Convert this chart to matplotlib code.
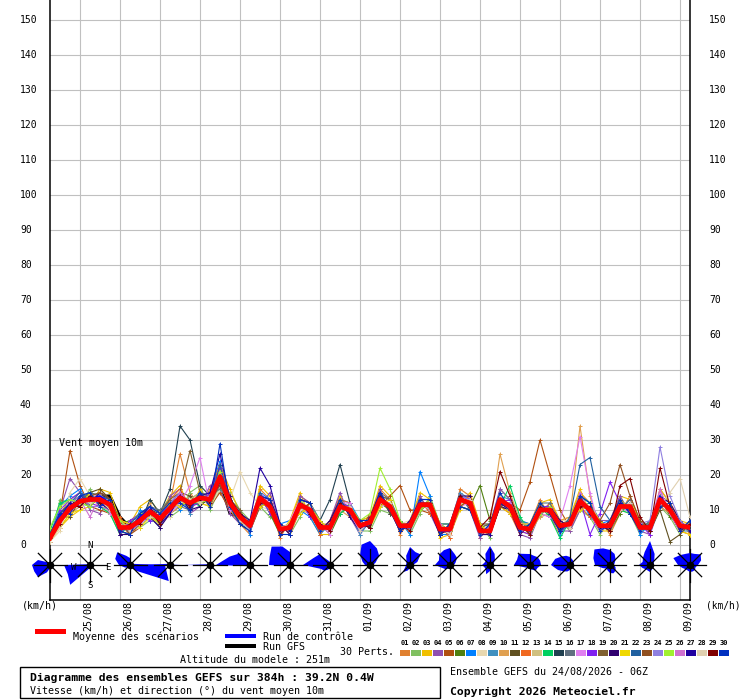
import matplotlib
matplotlib.use("Agg")
import matplotlib.pyplot as plt
import matplotlib.transforms as mtransforms
from matplotlib.patches import Rectangle, Polygon
import numpy as np

W, H = 740, 700
plt.rcParams['font.family'] = ['DejaVu Sans Mono', 'DejaVu Sans']

# time axis: one value every 6h from 24/08 06Z to 09/09 06Z
step_h = 6
dates = ['25/08', '26/08', '27/08', '28/08', '29/08', '30/08', '31/08', '01/09',
         '02/09', '03/09', '04/09', '05/09', '06/09', '07/09', '08/09', '09/09']

mean = [2, 7, 10.5, 12.5, 13, 13, 11.5, 5, 5, 7, 9.5, 7.5, 10.5, 13.5, 12, 13.5, 13, 19.5, 12, 8,
        5.5, 13.5, 11, 4.5, 5, 11.5, 10, 5, 5, 11, 10, 5.5, 6.5, 13, 11, 5.5, 5.5, 11.5, 11.5, 4.5,
        4.5, 13, 12, 4, 4, 13, 11, 5, 4.5, 10, 10, 5.5, 6, 12.5, 10, 5.5, 5.5, 11, 11, 5,
        5, 13, 10, 5.5, 5]
ctrl = [2,8,11,13,13,14,12,5,5,8,10,8,11,14,12,14,13,20,12,8,5,14,11,4,5,12,10,5,5,11,10,5,6,13,11,5,5,12,11,4,4,13,12,4,4,13,11,5,4,10,10,5,6,13,10,5,5,11,11,5,5,14,10,5,5]
gfs = [2,7,11,13,13,14,14,8,5,7,9,7,10,13,12,13,13,18,9,8,5,13,11,4,5,11,10,5,5,11,10,5,6,13,11,5,5,11,11,4,4,13,12,4,4,13,11,5,4,10,10,5,6,12,10,5,5,11,11,5,5,13,10,5,5]

p01 = [3,9,13,15,11,16,13,7,3,9, 11,5,12,26,15,11,16,22,10,6, 3,16,13,2,7,14,12,3,7,14, 8,7,8,16,13,3,7,14,9,6, 2,16,14,2,6,11,9,7,6,13, 8,3,8,15,12,7,3,9,14,7, 3,16,12,7,3]
p02 = [1,13,12,11,16,11,9,3,7,5, 7,9,8,10,15,17,10,16,15,10, 7,11,8,6,3,8,12,7,4,9, 12,4,4,10,9,7,3,9,14,6, 6,11,10,6,2,16,13,3,6,8, 12,7,4,10,8,3,7,14,9,3, 7,11,8,3,7]
p03 = [2,5,8,10,11,16,15,7,6,11, 13,9,14,17,10,16,11,23,16,9, 4,17,14,3,7,15,8,3,3,14, 9,7,8,17,14,4,7,15,13,2, 3,10,15,6,3,11,9,4,3,12, 13,7,8,16,9,4,4,14,13,7, 4,16,12,7,6]
p04 = [3,10,19,15,10,9,13,3,7,9, 8,5,14,16,9,11,17,16,9,6, 7,11,15,6,3,14,12,4,7,15, 8,3,7,16,9,7,4,14,9,3, 6,15,10,2,6,16,13,3,2,9, 8,4,4,10,11,7,7,14,9,4, 3,11,9,4,7]
p05 = [1,9,27,17,11,10,9,6,3,5, 11,6,12,14,10,14,11,15,10,10, 4,11,12,3,6,9,12,7,4,12, 11,4,9,11,14,17,10,10,9,6, 3,11,13,6,3,11,12,10,18,30, 20,10,5,14,9,4,7,10,12,6, 4,14,9,4,6]
p06 = [4,6,12,11,15,12,10,6,7,6, 8,10,9,11,13,15,14,20,14,6, 7,14,9,3,6,13,9,6,3,9, 11,7,5,12,10,6,4,13,13,6, 6,14,11,17,7,12,10,6,6,9, 11,4,7,11,12,6,4,9,12,6, 6,14,8,6,4]
p07 = [2,11,14,16,11,15,13,7,3,10, 7,9,13,10,14,11,15,24,11,10, 3,15,13,6,7,10,8,3,6,13, 12,7,7,15,9,7,3,21,14,3, 3,11,10,3,6,14,9,7,6,9, 12,3,7,14,8,6,7,10,13,3, 6,15,9,7,4]
p08 = [1,4,15,19,14,11,9,6,4,5, 11,9,8,15,11,14,11,16,13,21, 15,11,10,6,3,10,11,6,4,10, 11,4,7,11,12,6,7,10,12,3, 5,11,13,3,5,15,10,6,3,9, 11,7,7,11,11,6,4,10,12,6, 4,12,11,6,4]
p09 = [3,10,9,14,15,14,13,3,6,9, 8,5,10,14,9,15,11,21,14,7, 7,15,10,6,4,13,12,7,4,13, 9,3,7,14,13,4,7,13,10,6, 6,15,13,3,3,14,13,4,6,12, 9,4,7,14,12,7,4,13,10,4, 7,14,12,4,4]
p10 = [2,5,9,11,14,11,10,7,6,6, 12,6,9,11,14,12,11,18,10,9, 4,12,12,3,7,10,9,6,6,10, 8,7,5,11,12,4,6,10,13,5, 3,11,13,6,6,26,15,7,4,8, 9,7,8,34,14,4,6,10,9,6, 4,11,9,6,6]
p11 = [2,8,8,13,15,16,13,4,3,8, 10,9,9,15,14,11,14,17,13,7, 6,11,12,3,6,13,9,4,6,12, 9,6,5,14,9,6,6,10,12,3, 6,14,11,3,3,11,10,6,3,12, 9,6,5,11,11,4,6,10,12,6, 4,10,1,3,6]
p12 = [3,9,12,14,11,14,9,8,4,9, 8,8,13,16,11,12,15,23,14,6, 7,12,13,6,3,10,11,3,7,13, 12,4,8,12,12,7,4,13,9,6, 2,12,14,6,3,14,9,3,6,9, 12,7,5,11,8,7,4,13,10,7, 4,15,9,4,3]
p13 = [2,6,11,11,14,15,10,4,7,6, 11,9,9,12,13,15,11,17,13,10, 4,14,10,6,4,10,11,4,6,10, 11,7,5,12,12,4,7,10,12,6, 3,14,11,5,3,12,12,4,5,9, 11,7,5,11,11,4,7,10,12,4, 6,12,11,7,4]
p14 = [4,12,13,12,11,11,9,3,6,6, 8,6,12,12,13,11,14,21,11,6, 4,15,9,5,6,10,11,4,6,9, 11,4,7,11,12,4,6,10,13,3, 6,11,10,5,6,11,17,8,4,11, 8,2,7,14,12,4,6,10,9,6, 4,14,9,6,4]
p15 = [2,8,9,14,11,14,13,4,6,6, 13,9,16,34,30,17,14,20,10,9, 4,14,10,5,6,10,11,7,13,23, 12,4,7,12,12,4,6,10,12,5, 3,13,11,5,3,14,10,6,3,11, 9,6,5,13,9,6,4,12,10,4, 6,12,11,4,6]
p16 = [3,9,9,13,15,14,13,4,3,9, 11,10,13,11,10,15,14,16,13,9, 7,11,13,6,4,13,12,4,6,13, 9,7,5,15,13,7,4,13,10,6, 4,14,10,6,6,11,12,7,4,12, 12,4,7,14,9,7,4,10,13,4, 7,14,12,4,7]
p17 = [2,5,12,11,14,14,9,7,4,6, 8,6,9,12,17,25,11,21,10,9, 4,15,12,3,7,13,9,6,3,12, 12,4,7,11,12,4,7,13,10,6, 3,11,12,3,6,14,9,6,6,9, 8,7,17,31,15,4,6,10,12,4, 6,15,9,6,4]
p18 = [1,10,13,15,12,11,12,3,7,8, 7,8,12,15,11,12,15,22,13,7, 7,14,9,6,4,13,8,6,4,12, 11,4,7,14,10,6,4,10,13,3, 5,14,13,3,5,12,13,4,3,11, 11,4,6,13,3,9,18,12,9,6, 3,14,9,6,4]
p19 = [2,8,9,13,11,14,10,6,4,8, 11,9,13,15,27,15,11,18,13,10, 4,11,12,3,6,10,11,4,6,10, 11,7,5,14,13,4,6,13,10,6, 3,11,10,5,6,14,10,6,3,11, 9,6,7,11,11,4,6,10,12,6, 4,11,11,4,6]
p20 = [3,9,12,14,12,15,13,3,3,9, 8,5,9,14,10,11,14,17,14,6, 4,14,13,6,3,13,12,4,7,13, 8,4,8,15,10,4,7,13,10,3, 6,14,14,3,3,11,10,3,6,9, 11,7,5,14,9,4,7,13,9,4, 6,14,12,7,4]
p21 = [1,5,9,10,15,11,10,7,6,5, 8,6,12,11,13,12,11,21,11,9, 7,11,12,3,7,9,11,7,4,13, 9,6,5,11,13,4,6,10,13,6, 3,11,13,6,3,14,9,6,6,12, 9,4,7,10,11,7,4,13,10,6, 4,11,12,4,3]
p22 = [2,9,12,15,12,14,13,4,6,9, 11,9,9,15,11,15,12,23,11,7, 4,15,10,6,4,13,9,4,6,10, 11,4,7,14,10,7,4,13,10,3, 6,14,11,3,5,14,10,4,6,9, 11,4,8,23,25,11,7,10,12,4, 6,14,9,4,6]
p23 = [2,6,11,11,14,15,13,7,3,6, 10,6,12,12,13,12,13,17,12,6, 7,12,12,3,6,10,12,4,6,12, 9,6,5,14,10,4,6,10,12,6, 4,11,13,3,5,11,12,6,3,11, 9,6,5,14,9,7,12,23,14,7, 4,11,11,4,6]
p24 = [3,6,12,14,11,11,10,6,4,6, 11,9,12,15,11,14,12,20,11,9, 4,12,12,6,4,13,9,6,4,12, 9,4,7,12,12,6,5,13,10,5, 3,14,13,5,3,12,12,4,5,9, 11,4,7,11,11,4,6,10,12,6, 7,28,14,7,4]
p25 = [5,11,13,12,11,14,12,7,4,9, 9,6,12,12,13,12,13,21,11,7, 6,14,10,6,4,13,9,4,6,10, 11,7,9,22,16,7,4,10,12,6, 4,14,11,5,3,14,10,6,3,9, 11,4,7,13,9,6,4,12,10,6, 4,14,9,6,4]
p26 = [2,8,9,13,8,14,12,4,6,6, 10,8,9,15,11,14,12,18,13,7, 6,12,12,3,6,10,11,6,4,12, 9,4,7,12,12,6,4,12,10,6, 3,12,13,3,5,12,12,4,5,11, 9,6,5,15,9,4,6,10,12,4, 6,16,9,4,6]
p27 = [2,8,12,11,14,12,10,6,4,8, 11,6,9,14,11,14,15,26,13,9, 7,22,17,6,4,12,9,4,6,10, 11,6,5,14,10,4,6,12,10,3, 5,14,11,5,3,12,10,6,3,11, 9,4,7,13,9,6,4,12,10,6, 4,12,11,6,4]
p28 = [1,5,11,13,12,13,10,6,4,8, 8,8,11,12,13,12,14,18,13,7, 4,14,10,5,6,10,11,4,6,10, 11,4,7,12,12,6,4,12,10,5, 3,12,13,3,5,14,10,6,3,11, 9,6,5,11,11,4,6,10,12,4, 6,11,15,19,8]
p29 = [2,6,11,11,14,12,12,4,6,6, 10,6,11,14,11,14,12,18,13,9, 6,12,12,3,6,12,9,6,4,12, 9,6,5,14,10,6,4,12,12,3, 5,14,11,5,8,21,14,6,3,11, 9,4,7,11,11,6,4,17,19,8, 4,22,11,4,6]
p30 = [3,9,9,14,15,11,13,4,3,9, 11,9,12,12,10,15,11,29,11,6, 4,14,13,3,3,13,12,4,6,13, 9,7,7,15,10,4,6,13,13,3, 6,11,10,3,6,15,10,4,6,12, 9,4,7,14,12,4,6,13,9,4, 6,11,12,4,7]

perts = [p01, p02, p03, p04, p05, p06, p07, p08, p09, p10, p11, p12, p13, p14, p15,
         p16, p17, p18, p19, p20, p21, p22, p23, p24, p25, p26, p27, p28, p29, p30]
pert_colors = ['#E08030', '#80C060', '#F0C000', '#9050B0', '#B05010', '#508010', '#0080FF', '#E8D8B0',
               '#4090C0', '#E0A050', '#605020', '#F06820', '#D0C080', '#00D060', '#204050', '#607080',
               '#E080F0', '#8020F0', '#806030', '#300070', '#F0D800', '#2060A0', '#905020', '#9080E0',
               '#A0F030', '#D070D0', '#2000A0', '#E0D0B0', '#800000', '#0030C0']

# wind direction frequency, 16 sectors from N clockwise, one rose per day at 06Z
rose_freq = [
    [3, 2, 2, 2, 3, 2, 2, 2, 3, 8, 17, 17, 18, 13, 4, 3],
    [1, 1, 1, 1, 2, 1, 1, 1, 2, 5, 28, 24, 26, 2, 1, 1],
    [7, 3, 2, 3, 35, 42, 8, 3, 3, 3, 4, 6, 11, 16, 18, 10],
    [1, 1, 1, 1, 11, 2, 1, 1, 1, 1, 1, 2, 30, 3, 1, 1],
    [1, 1, 1, 2, 2, 1, 1, 1, 1, 1, 1, 1, 26, 2, 1, 1],
    [2, 1, 1, 1, 2, 1, 1, 1, 1, 1, 1, 3, 34, 22, 16, 3],
    [13, 3, 2, 2, 2, 2, 2, 2, 2, 2, 2, 3, 21, 22, 26, 20],
    [3, 2, 2, 2, 2, 2, 2, 2, 3, 5, 8, 10, 27, 18, 15, 5],
    [24, 18, 13, 6, 3, 2, 2, 2, 2, 2, 2, 3, 5, 8, 14, 22],
    [18, 14, 15, 8, 3, 2, 2, 2, 3, 6, 10, 5, 4, 4, 5, 10],
    [17, 12, 10, 6, 4, 3, 3, 3, 3, 4, 6, 8, 15, 12, 15, 16],
    [19, 12, 7, 4, 3, 3, 3, 4, 6, 10, 6, 6, 8, 6, 6, 12],
    [11, 10, 11, 11, 11, 8, 8, 5, 4, 4, 4, 6, 16, 14, 16, 12],
    [8, 6, 5, 4, 4, 4, 4, 4, 5, 7, 9, 13, 19, 16, 12, 10],
    [15, 12, 8, 5, 4, 6, 8, 9, 8, 6, 5, 8, 15, 18, 22, 18],
    [24, 12, 6, 4, 4, 4, 4, 5, 7, 6, 6, 8, 11, 8, 10, 14],
    [12, 12, 15, 12, 8, 6, 7, 7, 7, 6, 6, 8, 12, 18, 14, 12],
]

hours = np.arange(len(mean)) * step_h
day_hours = np.arange(18, 384, 24)
rose_hours = np.arange(0, 385, 24)

fig = plt.figure(figsize=(W / 100, H / 100), dpi=100)
ax = fig.add_axes([50 / W, 100 / H, 640 / W, 600 / H])
ax.set_xlim(0, 384)
ax.set_ylim(-55 / 3.5, 545 / 3.5)
ax.set_xticks([])
ax.set_yticks([])
ax.spines['top'].set_visible(False)
for s in ['left', 'right', 'bottom']:
    ax.spines[s].set_linewidth(1.1)
    ax.spines[s].set_color('black')

x_per_px = 384 / 640
y_per_px = 1 / 3.5

grid_c = '#C0C0C0'
for v in range(0, 160, 10):
    ax.axhline(v, color=grid_c, lw=0.8, zorder=0)
for h in day_hours:
    ax.axvline(h, color=grid_c, lw=0.8, zorder=0)

# y labels on both sides
ylab = mtransforms.blended_transform_factory(ax.transAxes, ax.transData)
for v in range(0, 160, 10):
    ax.text(-30 / 640, v, str(v), transform=ylab, ha='left', va='center', fontsize=7, clip_on=False)
    ax.text(1 + 19 / 640, v, str(v), transform=ylab, ha='left', va='center', fontsize=7, clip_on=False)

# date labels under each day line
xlab = mtransforms.blended_transform_factory(ax.transData, ax.transAxes)
for h, d in zip(day_hours, dates):
    ax.annotate(d, xy=(h, 0), xycoords=xlab, xytext=(5.8, -0.8), textcoords='offset points',
                rotation=90, ha='center', va='top', fontsize=7.2, annotation_clip=False)

ax.text(9 * x_per_px, 102 * y_per_px, 'Vent moyen 10m', fontsize=7.2, ha='left', va='center')

# series
ax.plot(hours, gfs, color='black', lw=2.2, zorder=2)
for vals, c in zip(perts, pert_colors):
    ax.plot(hours, vals, color=c, lw=0.8, marker='+', ms=3, mew=0.7, zorder=3)
ax.plot(hours, ctrl, color='#0000FF', lw=1.2, zorder=4)
ax.plot(hours, mean, color='#FF0000', lw=3.4, zorder=5)

# wind roses
rose_y = -20 * y_per_px
ang16 = np.deg2rad(90 - 22.5 * np.arange(16))
ang8 = np.deg2rad(90 - 45 * np.arange(8))
arm = 16.5
for h, fr in zip(rose_hours, rose_freq):
    fr = np.array(fr, dtype=float)
    xs = h + fr * np.cos(ang16) * x_per_px
    ys = rose_y + fr * np.sin(ang16) * y_per_px
    ax.add_patch(Polygon(np.column_stack([xs, ys]), closed=True, facecolor='#0000FF',
                         edgecolor='none', zorder=6, clip_on=False))
    for a in ang8:
        ax.plot([h, h + arm * np.cos(a) * x_per_px], [rose_y, rose_y + arm * np.sin(a) * y_per_px],
                color='black', lw=0.9, zorder=7, clip_on=False)
    ax.plot(h, rose_y, 'o', color='black', ms=4.5, zorder=8, clip_on=False)

h1 = rose_hours[1]
for lab, dx, dy in [('N', 0, 19), ('S', 0, -21), ('W', -16, -2), ('E', 18, -2)]:
    ax.text(h1 + dx * x_per_px, rose_y + dy * y_per_px, lab, fontsize=6.5, ha='center', va='center',
            zorder=9)


def fx(px):
    return px / W


def fy(py):
    return 1 - py / H


fs = 7.2
fig.text(fx(22), fy(606), '(km/h)', fontsize=fs, ha='left', va='center')
fig.text(fx(706), fy(606), '(km/h)', fontsize=6.9, ha='left', va='center')

# legend
fig.add_artist(Rectangle((fx(35), fy(634)), 31 / W, 5 / H, facecolor='#FF0000', edgecolor='none',
                         transform=fig.transFigure))
fig.text(fx(73), fy(637), 'Moyenne des scénarios', fontsize=fs, ha='left', va='center')
fig.add_artist(Rectangle((fx(225), fy(638)), 31 / W, 4 / H, facecolor='#0000FF', edgecolor='none',
                         transform=fig.transFigure))
fig.text(fx(263), fy(637), 'Run de contrôle', fontsize=fs, ha='left', va='center')
fig.add_artist(Rectangle((fx(225), fy(648)), 31 / W, 4 / H, facecolor='black', edgecolor='none',
                         transform=fig.transFigure))
fig.text(fx(263), fy(647), 'Run GFS', fontsize=fs, ha='left', va='center')
fig.text(fx(340), fy(652), '30 Perts.', fontsize=fs, ha='left', va='center')
for k, c in enumerate(pert_colors):
    x0 = 400 + 11 * k
    fig.add_artist(Rectangle((fx(x0), fy(656)), 10 / W, 6 / H, facecolor=c, edgecolor='none',
                             transform=fig.transFigure))
    fig.text(fx(x0 + 5), fy(643), '%02d' % (k + 1), fontsize=5, fontweight='bold',
             ha='center', va='center')
fig.text(fx(180), fy(660), 'Altitude du modele : 251m', fontsize=fs, ha='left', va='center')

fig.add_artist(Rectangle((fx(20), fy(698)), 420 / W, 31 / H, facecolor='white', edgecolor='black',
                         lw=1, transform=fig.transFigure))
fig.text(fx(30), fy(678), 'Diagramme des ensembles GEFS sur 384h : 39.2N 0.4W', fontsize=8.2,
         fontweight='bold', ha='left', va='center')
fig.text(fx(30), fy(691), 'Vitesse (km/h) et direction (°) du vent moyen 10m', fontsize=fs,
         ha='left', va='center')
fig.text(fx(450), fy(672), 'Ensemble GEFS du 24/08/2026 - 06Z', fontsize=fs, ha='left', va='center')
fig.text(fx(450), fy(692), 'Copyright 2026 Meteociel.fr', fontsize=8.2, fontweight='bold',
         ha='left', va='center')

fig.savefig('out.png', dpi=100)
